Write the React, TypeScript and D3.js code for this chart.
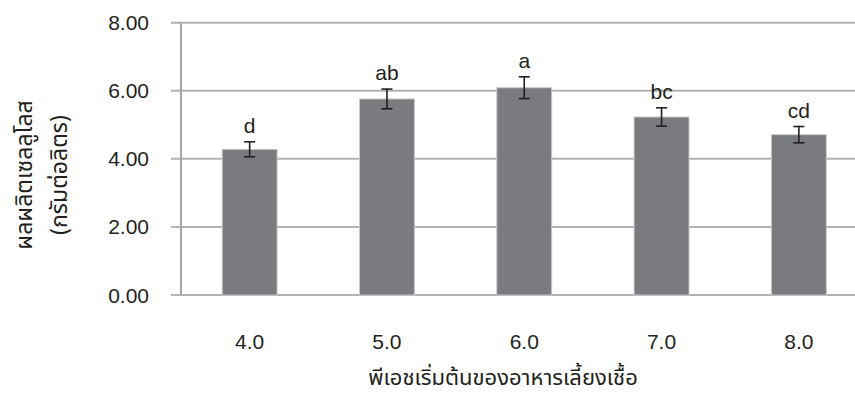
import React from "react";
import * as d3 from "d3";

// Initial pH of the culture medium vs. cellulose yield (g/L)
const categories = ["4.0", "5.0", "6.0", "7.0", "8.0"];
const yields = [4.28, 5.76, 6.09, 5.23, 4.71];
const errors = [0.22, 0.29, 0.32, 0.27, 0.24];
const groups = ["d", "ab", "a", "bc", "cd"];
const yTicks = [0, 2, 4, 6, 8];

const W = 855;
const H = 399;
const left = 181;
const step = 137.3;
const top = 22.7;
const bottom = 295;

export default function App() {
  const x = d3
    .scaleBand<string>()
    .domain(categories)
    .range([left, left + step * categories.length])
    .paddingInner(0.6)
    .paddingOuter(0.3);
  const y = d3.scaleLinear().domain([0, 8]).range([bottom, top]);
  const font = "'Liberation Sans', Arial, sans-serif";
  const thai = "'Noto Sans Thai', 'Tahoma', 'Liberation Sans', 'DejaVu Sans', sans-serif";
  const ink = "#231f20";

  return (
    <svg
      width={W}
      height={H}
      viewBox={`0 0 ${W} ${H}`}
      style={{ position: "absolute", left: 0, top: 0, background: "#fff" }}
    >
      {/* gridlines and y ticks */}
      {yTicks.map((t) => (
        <g key={t}>
          <line
            x1={left - 10}
            x2={W}
            y1={y(t)}
            y2={y(t)}
            stroke="#b3b3b3"
            strokeWidth={2}
          />
          <text
            x={149}
            y={y(t)}
            dy="0.36em"
            textAnchor="end"
            fontFamily={font}
            fontSize={21}
            fill={ink}
          >
            {t.toFixed(2)}
          </text>
        </g>
      ))}
      <line x1={left} x2={left} y1={top} y2={bottom} stroke="#a6a6a6" strokeWidth={2} />

      {/* bars with error bars and group letters */}
      {categories.map((c, i) => {
        const bx = x(c)!;
        const bw = x.bandwidth();
        const cx = bx + bw / 2;
        const hi = y(yields[i] + errors[i]);
        const lo = y(yields[i] - errors[i]);
        return (
          <g key={c}>
            <rect
              x={bx}
              y={y(yields[i])}
              width={bw}
              height={bottom - y(yields[i])}
              fill="#7a7b7f"
              stroke="#c9c9cb"
              strokeWidth={1}
            />
            <line x1={cx} x2={cx} y1={hi} y2={lo} stroke={ink} strokeWidth={1.6} />
            <line x1={cx - 5.5} x2={cx + 5.5} y1={hi} y2={hi} stroke={ink} strokeWidth={1.6} />
            <line x1={cx - 5.5} x2={cx + 5.5} y1={lo} y2={lo} stroke={ink} strokeWidth={1.6} />
            <text
              x={cx}
              y={hi - 9}
              textAnchor="middle"
              fontFamily={font}
              fontSize={21}
              fill={ink}
            >
              {groups[i]}
            </text>
            <text
              x={cx}
              y={349}
              textAnchor="middle"
              fontFamily={font}
              fontSize={21}
              fill={ink}
            >
              {c}
            </text>
          </g>
        );
      })}

      {/* axis titles */}
      <text
        x={503}
        y={385}
        textAnchor="middle"
        fontFamily={thai}
        fontSize={22}
        fill={ink}
      >
        พีเอชเริ่มต้นของอาหารเลี้ยงเชื้อ
      </text>
      <g transform="translate(0,175) rotate(-90)">
        <text
          x={0}
          y={32}
          textAnchor="middle"
          fontFamily={thai}
          fontSize={23}
          fill={ink}
        >
          ผลผลิตเซลลูโลส
        </text>
        <text
          x={0}
          y={67}
          textAnchor="middle"
          fontFamily={thai}
          fontSize={23}
          fill={ink}
        >
          (กรัมต่อลิตร)
        </text>
      </g>
    </svg>
  );
}
